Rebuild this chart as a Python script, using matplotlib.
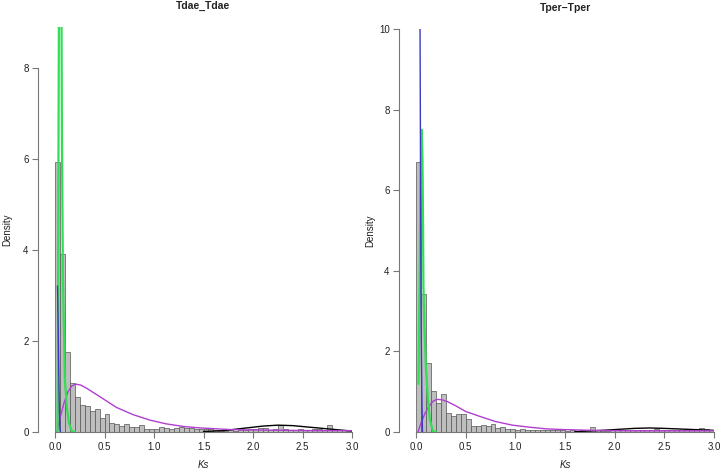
import numpy as np
import matplotlib
matplotlib.use('Agg')
import matplotlib.pyplot as plt

plt.rcParams['font.family'] = ['Liberation Sans', 'DejaVu Sans']

# histogram bins (Ks), width 0.05 from 0 to 3
bin_edges = np.linspace(0, 3, 61)

dae_hist = [5.93, 3.90, 1.75, 1.07, 0.76, 0.60, 0.58, 0.45, 0.50, 0.31,
            0.39, 0.20, 0.18, 0.14, 0.17, 0.11, 0.11, 0.16, 0.07, 0.07,
            0.07, 0.12, 0.09, 0.07, 0.09, 0.11, 0.09, 0.08, 0.06, 0.06,
            0.07, 0.07, 0.04, 0.03, 0.03, 0.04, 0.03, 0.04, 0.05, 0.06,
            0.07, 0.08, 0.08, 0.05, 0.06, 0.15, 0.06, 0.05, 0.04, 0.06,
            0.04, 0.05, 0.06, 0.06, 0.05, 0.16, 0.06, 0.05, 0.05, 0.04]

per_hist = [6.70, 3.42, 1.71, 1.02, 0.73, 0.94, 0.47, 0.39, 0.45, 0.45,
            0.32, 0.16, 0.16, 0.17, 0.16, 0.20, 0.10, 0.12, 0.07, 0.08,
            0.06, 0.07, 0.05, 0.06, 0.05, 0.04, 0.05, 0.04, 0.05, 0.04,
            0.03, 0.06, 0.03, 0.05, 0.06, 0.12, 0.04, 0.03, 0.03, 0.04,
            0.05, 0.04, 0.05, 0.06, 0.05, 0.06, 0.05, 0.06, 0.07, 0.05,
            0.06, 0.05, 0.05, 0.04, 0.04, 0.05, 0.08, 0.09, 0.07, 0.06]

# fitted component curves
dae_green_x = [0.025, 0.03, 0.035, 0.04, 0.05, 0.06, 0.065, 0.07, 0.08, 0.1, 0.12, 0.14, 0.17, 0.2]
dae_green_y = [0.0, 2.0, 6.0, 9.5, 10.5, 10.5, 9.5, 6.5, 3.4, 1.14, 0.55, 0.2, 0.02, 0.0]
dae_blue_x = [0.025, 0.03, 0.035, 0.04, 0.045, 0.05, 0.055]
dae_blue_y = [3.2, 2.6, 1.8, 1.0, 0.4, 0.05, 0.0]
dae_purple_x = [0.02, 0.05, 0.09, 0.13, 0.17, 0.21, 0.26, 0.32, 0.45, 0.62, 0.79, 0.96, 1.12, 1.3, 1.46, 1.8, 2.2, 2.6, 3.0]
dae_purple_y = [0.0, 0.3, 0.63, 0.88, 1.01, 1.05, 1.03, 0.96, 0.78, 0.54, 0.38, 0.26, 0.18, 0.12, 0.09, 0.05, 0.04, 0.03, 0.03]
dae_black_x = [1.5, 1.7, 1.9, 2.1, 2.25, 2.4, 2.6, 2.8, 3.0]
dae_black_y = [0.01, 0.03, 0.08, 0.13, 0.15, 0.14, 0.10, 0.06, 0.02]

per_green_x = [0.025, 0.035, 0.045, 0.057, 0.065, 0.07, 0.075, 0.085, 0.1, 0.12, 0.14, 0.17, 0.2]
per_green_y = [1.2, 3.5, 6.0, 7.5, 6.8, 5.5, 3.6, 2.6, 1.6, 0.8, 0.3, 0.02, 0.0]
per_blue_x = [0.04, 0.045, 0.05, 0.055, 0.06, 0.065]
per_blue_y = [10.5, 7.0, 3.3, 1.8, 0.7, 0.0]
per_purple_x = [0.02, 0.05, 0.09, 0.13, 0.17, 0.21, 0.26, 0.32, 0.4, 0.5, 0.64, 0.8, 0.97, 1.14, 1.3, 1.48, 1.8, 2.2, 2.6, 3.0]
per_purple_y = [0.0, 0.22, 0.46, 0.64, 0.76, 0.81, 0.80, 0.75, 0.65, 0.51, 0.39, 0.26, 0.17, 0.12, 0.08, 0.06, 0.04, 0.03, 0.03, 0.03]
per_black_x = [1.6, 1.8, 2.0, 2.2, 2.35, 2.5, 2.7, 2.9, 3.0]
per_black_y = [0.01, 0.03, 0.06, 0.09, 0.10, 0.09, 0.07, 0.05, 0.04]

titles = ['Tdae_Tdae', 'Tper\u2212Tper']
x_ticks = [0.0, 0.5, 1.0, 1.5, 2.0, 2.5, 3.0]
x_ticklabels = ['0.0', '0.5', '1.0', '1.5', '2.0', '2.5', '3.0']

fig = plt.figure(figsize=(7.26, 4.74), dpi=100)
ax1 = fig.add_axes([55/726, 42/474, 297/726, 405/474])
ax2 = fig.add_axes([416/726, 42/474, 298/726, 403/474])

panels = [
    (ax1, dae_hist, dae_green_x, dae_green_y, dae_blue_x, dae_blue_y,
     dae_purple_x, dae_purple_y, dae_black_x, dae_black_y, 8.89, [0, 2, 4, 6, 8], -0.145),
    (ax2, per_hist, per_green_x, per_green_y, per_blue_x, per_blue_y,
     per_purple_x, per_purple_y, per_black_x, per_black_y, 10.0, [0, 2, 4, 6, 8, 10], -0.138),
]

txt = '#222222'
for i, (ax, h, gx, gy, bx, by, px, py, kx, ky, ytop, yticks, ylab_x) in enumerate(panels):
    ax.bar(bin_edges[:-1], h, width=0.05, align='edge', color='#bebebe',
           edgecolor='#555555', linewidth=0.5, zorder=1)
    ax.plot(kx, ky, color='black', lw=1.0, zorder=2)
    ax.plot(px, py, color='#b03fd0', lw=1.0, zorder=3)
    ax.plot(gx, gy, color='#33dd55', lw=1.6, zorder=4)
    ax.plot(bx, by, color='#3a3ac0', lw=1.0, zorder=5)

    ax.set_xlim(0, 3)
    ax.set_ylim(0, ytop)
    ax.set_xticks(x_ticks)
    ax.set_xticklabels(x_ticklabels)
    ax.set_yticks(yticks)
    for s in ['top', 'right']:
        ax.spines[s].set_visible(False)
    ax.spines['left'].set_position(('outward', 12))
    ax.spines['left'].set_bounds(0, yticks[-1])
    ax.spines['bottom'].set_bounds(0, 3)
    for s in ['left', 'bottom']:
        ax.spines[s].set_color('#777777')
        ax.spines[s].set_linewidth(0.8)
    ax.tick_params(direction='out', length=4, width=0.8, color='#777777',
                   labelcolor=txt, labelsize=7, pad=3)
    ax.set_title(titles[i], fontsize=7.5, fontweight='bold', pad=13, color=txt)
    ax.set_xlabel('Ks', fontsize=7, style='italic', labelpad=6, color=txt)
    ax.set_ylabel('Density', fontsize=7, color=txt)
    ax.yaxis.set_label_coords(ylab_x, 0.5)

fig.savefig('out.png', dpi=100)
